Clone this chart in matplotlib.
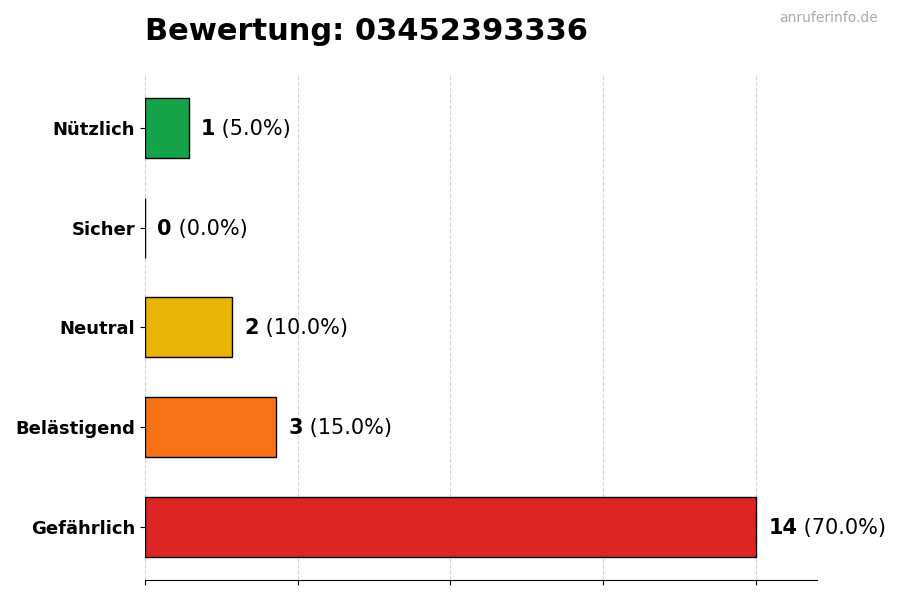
import matplotlib
matplotlib.use('Agg')
import matplotlib.pyplot as plt

# data
categories = ['Gefährlich', 'Belästigend', 'Neutral', 'Sicher', 'Nützlich']
counts = [14, 3, 2, 0, 1]
colors = ['#dc2626', '#f97316', '#eab308', '#22c55e', '#16a34a']
title = 'Bewertung: 03452393336'

total = sum(counts)
max_count = max(counts)

fig = plt.figure(figsize=(9, 6), dpi=100)
ax = fig.add_axes([0.161, 0.0333, 0.747, 0.842])

y = range(len(categories))
ax.barh(y, counts, height=0.6, color=colors, edgecolor='black', linewidth=1, zorder=3)

for i, c in enumerate(counts):
    t = ax.text(c + max_count * 0.02, i - 0.01, str(c), fontsize=15, fontweight='bold',
                va='center', ha='left', zorder=4)
    ax.annotate(' (%.1f%%)' % (100.0 * c / total), xy=(1, 0.5), xycoords=t,
                va='center', ha='left', fontsize=15)

ax.set_yticks(list(y))
ax.set_yticklabels(categories, fontsize=13, fontweight='bold')
ax.set_xlim(0, max_count * 1.1)
ax.set_xticks([max_count * k / 4 for k in range(5)])
ax.set_xticklabels([])
ax.grid(axis='x', linestyle='--', color='#d4d4d4', linewidth=0.8, zorder=0)

for side in ['top', 'right', 'left']:
    ax.spines[side].set_visible(False)

fig.text(0.161, 0.947, title, fontsize=22, fontweight='bold', ha='left', va='center')
fig.text(0.975, 0.970, 'anruferinfo.de', fontsize=10, color='#aaaaaa', ha='right', va='center')

plt.savefig('out.png', dpi=100)
